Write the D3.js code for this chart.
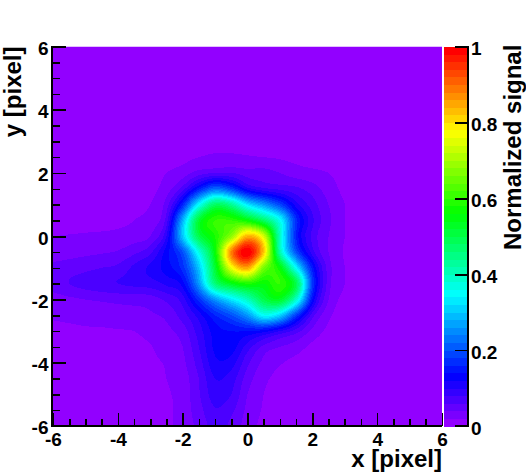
<!DOCTYPE html>
<html><head><meta charset="utf-8">
<script src="https://cdn.jsdelivr.net/npm/d3@7"></script>
<style>html,body{margin:0;padding:0;background:#fff}svg{display:block}text{font-family:"Liberation Sans",Arial,sans-serif;font-weight:bold;fill:#000}</style>
</head><body><div id="c"></div>
<script>
const gridX = [-6,-5.5,-5,-4.5,-4,-3.5,-3,-2.5,-2,-1.5,-1,-.5,0,.5,1,1.5,2,2.5,3,3.5,4,4.5,5,5.5,6];
const gridY = [6,5.5,5,4.5,4,3.5,3,2.5,2,1.5,1,.5,0,-.5,-1,-1.5,-2,-2.5,-3,-3.5,-4,-4.5,-5,-5.5,-6];
const r600 = [.01,.01,.01,.01,.01,.01,.01,.01,.01,.01,.01,.01,.01,.01,.01,.01,.01,.01,.01,.01,.01,.01,.01,.01,.01];
const r550 = r600, r500 = r600, r450 = r600, r400 = r600, r350 = r600;
const r300 = [.01,.01,.01,.01,.01,.01,.01,.01,.01,.012,.012,.012,.012,.012,.012,.01,.01,.01,.01,.01,.01,.01,.01,.01,.01];
const r250 = [.01,.01,.01,.01,.01,.01,.01,.012,.015,.02,.025,.025,.022,.02,.018,.015,.012,.01,.01,.01,.01,.01,.01,.01,.01];
const r200 = [.01,.01,.01,.01,.01,.01,.012,.02,.03,.05,.06,.06,.05,.05,.04,.03,.025,.02,.012,.01,.01,.01,.01,.01,.01];
const r150 = [.01,.01,.01,.01,.01,.012,.015,.03,.07,.15,.22,.18,.11,.085,.075,.065,.05,.03,.015,.01,.01,.01,.01,.01,.01];
const r100 = [.01,.01,.01,.01,.012,.015,.02,.05,.16,.35,.48,.44,.33,.26,.19,.11,.07,.04,.02,.01,.01,.01,.01,.01,.01];
const r050 = [.014,.014,.015,.015,.016,.02,.03,.07,.28,.52,.60,.60,.56,.48,.36,.17,.085,.045,.02,.01,.01,.01,.01,.01,.01];
const r000 = [.02,.021,.022,.023,.025,.03,.04,.10,.30,.50,.58,.68,.84,.74,.40,.16,.075,.04,.02,.01,.01,.01,.01,.01,.01];
const r_050 = [.03,.032,.035,.038,.042,.055,.075,.13,.20,.37,.56,.88,1,.82,.42,.20,.09,.04,.018,.01,.01,.01,.01,.01,.01];
const r_100 = [.045,.05,.055,.06,.065,.085,.105,.13,.17,.30,.52,.76,.85,.66,.56,.35,.15,.05,.02,.01,.01,.01,.01,.01,.01];
const r_150 = [.048,.06,.068,.075,.08,.085,.09,.105,.13,.26,.46,.54,.58,.56,.60,.50,.18,.05,.02,.01,.01,.01,.01,.01,.01];
const r_200 = [.032,.036,.04,.043,.046,.048,.05,.065,.09,.17,.26,.33,.40,.50,.53,.39,.14,.04,.015,.01,.01,.01,.01,.01,.01];
const r_250 = [.022,.024,.026,.028,.03,.032,.037,.045,.07,.11,.16,.20,.26,.35,.31,.18,.07,.025,.012,.01,.01,.01,.01,.01,.01];
const r_300 = [.017,.017,.018,.018,.019,.02,.026,.035,.05,.09,.13,.14,.14,.13,.10,.07,.035,.015,.01,.01,.01,.01,.01,.01,.01];
const r_350 = [.013,.013,.014,.014,.015,.017,.019,.029,.04,.08,.125,.13,.09,.055,.04,.03,.015,.01,.01,.01,.01,.01,.01,.01,.01];
const r_400 = [.01,.01,.012,.012,.013,.015,.017,.022,.035,.07,.115,.11,.065,.035,.022,.015,.01,.01,.01,.01,.01,.01,.01,.01,.01];
const r_450 = [.01,.01,.01,.012,.012,.013,.015,.02,.03,.06,.10,.09,.05,.025,.015,.012,.01,.01,.01,.01,.01,.01,.01,.01,.01];
const r_500 = [.01,.01,.01,.01,.012,.012,.014,.018,.028,.058,.09,.08,.04,.02,.012,.01,.01,.01,.01,.01,.01,.01,.01,.01,.01];
const r_550 = [.01,.01,.01,.01,.01,.012,.012,.016,.028,.052,.078,.065,.035,.018,.012,.01,.01,.01,.01,.01,.01,.01,.01,.01,.01];
const r_600 = [.01,.01,.01,.01,.01,.01,.012,.016,.028,.046,.068,.055,.03,.015,.01,.01,.01,.01,.01,.01,.01,.01,.01,.01,.01];
const rows = [r600,r550,r500,r450,r400,r350,r300,r250,r200,r150,r100,r050,r000,r_050,r_100,r_150,r_200,r_250,r_300,r_350,r_400,r_450,r_500,r_550,r_600];
const axisTicks = [-6,-4,-2,0,2,4,6];
const minorTicks = d3.range(-6,6.01,.5);
const zTicks = [0,.2,.4,.6,.8,1];
const nLevels = 50;

const W=526,H=474, L=53,R=442,T=46.5,B=426, PL=444,PR=468;
const x=d3.scaleLinear([-6,6],[L,R]), y=d3.scaleLinear([-6,6],[B,T]), z=d3.scaleLinear([0,1],[B,T]);
const palette=d3.range(nLevels).map(i=>i===nLevels-1?"#ff0000":d3.hsl(280-(i+1)*5.6,1,.5).formatHex());
const svg=d3.select("#c").append("svg").attr("width",W).attr("height",H);
svg.append("clipPath").attr("id","fr").append("rect").attr("x",L).attr("y",T).attr("width",R-L).attr("height",B-T);

const K=8, nx=(gridX.length-1)*K+1, ny=(gridY.length-1)*K+1;
const cr=(a,b,c,d,t)=>.5*(2*b+(c-a)*t+(2*a-5*b+4*c-d)*t*t+(3*b-a-3*c+d)*t*t*t);
const at=(j,i)=>rows[Math.max(0,Math.min(rows.length-1,j))][Math.max(0,Math.min(gridX.length-1,i))];
const vals=new Float64Array(nx*ny);
for(let v=0;v<ny;v++)for(let u=0;u<nx;u++){
  const i=Math.floor(u/K),j=Math.floor(v/K),tx=u/K-i,ty=v/K-j;
  const c=[-1,0,1,2].map(dj=>cr(at(j+dj,i-1),at(j+dj,i),at(j+dj,i+1),at(j+dj,i+2),tx));
  vals[v*nx+u]=Math.max(0,cr(c[0],c[1],c[2],c[3],ty));
}
const thresholds=d3.range(1,nLevels).map(i=>i/nLevels);
const contours=d3.contours().size([nx,ny]).smooth(true).thresholds(thresholds)(vals);
const sx=d3.scaleLinear([.5,nx-.5],[-6,6]), sy=d3.scaleLinear([.5,ny-.5],[6,-6]);
const path=d3.geoPath(d3.geoTransform({point(a,b){this.stream.point(x(sx(a)),y(sy(b)));}}));
const g=svg.append("g").attr("clip-path","url(#fr)");
g.append("rect").attr("x",L).attr("y",T).attr("width",R-L).attr("height",B-T).attr("fill",palette[0]);
g.selectAll("path").data(contours).join("path").attr("d",path).attr("fill",(d,i)=>palette[i+1]).attr("shape-rendering","crispEdges");

svg.append("g").selectAll("rect").data(palette).join("rect")
  .attr("x",PL).attr("width",PR-PL)
  .attr("y",(d,i)=>z((i+1)/nLevels)).attr("height",(d,i)=>z(i/nLevels)-z((i+1)/nLevels)+.5)
  .attr("fill",d=>d).attr("shape-rendering","crispEdges");

const fmt=d=>d3.format("d")(d).replace("−","-");
function styleAxis(s,fs){s.select(".domain").remove();s.selectAll("line").attr("stroke","#000").attr("stroke-width",1.6).attr("shape-rendering","crispEdges");s.selectAll("text").style("font-size",fs+"px");}
svg.append("g").attr("transform",`translate(0,${B})`).call(d3.axisBottom(x).tickValues(minorTicks).tickSize(-7).tickFormat("")).call(styleAxis,19);
svg.append("g").attr("transform",`translate(${L},0)`).call(d3.axisLeft(y).tickValues(minorTicks).tickSize(-7).tickFormat("")).call(styleAxis,19);
const ax=svg.append("g").attr("transform",`translate(0,${B})`).call(d3.axisBottom(x).tickValues(axisTicks).tickSize(-13).tickFormat(fmt)).call(styleAxis,19);
ax.selectAll("text").attr("y",7).attr("dy","0.71em");
const ay=svg.append("g").attr("transform",`translate(${L},0)`).call(d3.axisLeft(y).tickValues(axisTicks).tickSize(-13).tickFormat(fmt)).call(styleAxis,19);
ay.selectAll("text").attr("x",-4.5).attr("dy","0.42em");
const az=svg.append("g").attr("transform",`translate(${PR},0)`).call(d3.axisRight(z).tickValues(zTicks).tickSize(-13).tickFormat(d3.format("~g"))).call(styleAxis,19);
az.selectAll("text").attr("x",3).attr("dy","0.44em");
const line=(a,b,c,d)=>svg.append("line").attr("x1",a).attr("y1",b).attr("x2",c).attr("y2",d).attr("stroke","#000").attr("stroke-width",2).attr("shape-rendering","crispEdges");
line(L-1,T-.5,L-1,B+1); line(L-2,B,R,B); line(PR,T-.5,PR,B+1); line(455,B,PR,B);
svg.append("text").attr("x",R).attr("y",467).attr("text-anchor","end").style("font-size","24px").text("x [pixel]");
svg.append("text").attr("transform",`translate(21,${T}) rotate(-90)`).attr("text-anchor","end").style("font-size","24px").text("y [pixel]");
svg.append("text").attr("transform",`translate(521,250) rotate(-90)`).attr("text-anchor","start").style("font-size","24px").text("Normalized signal");
</script></body></html>
